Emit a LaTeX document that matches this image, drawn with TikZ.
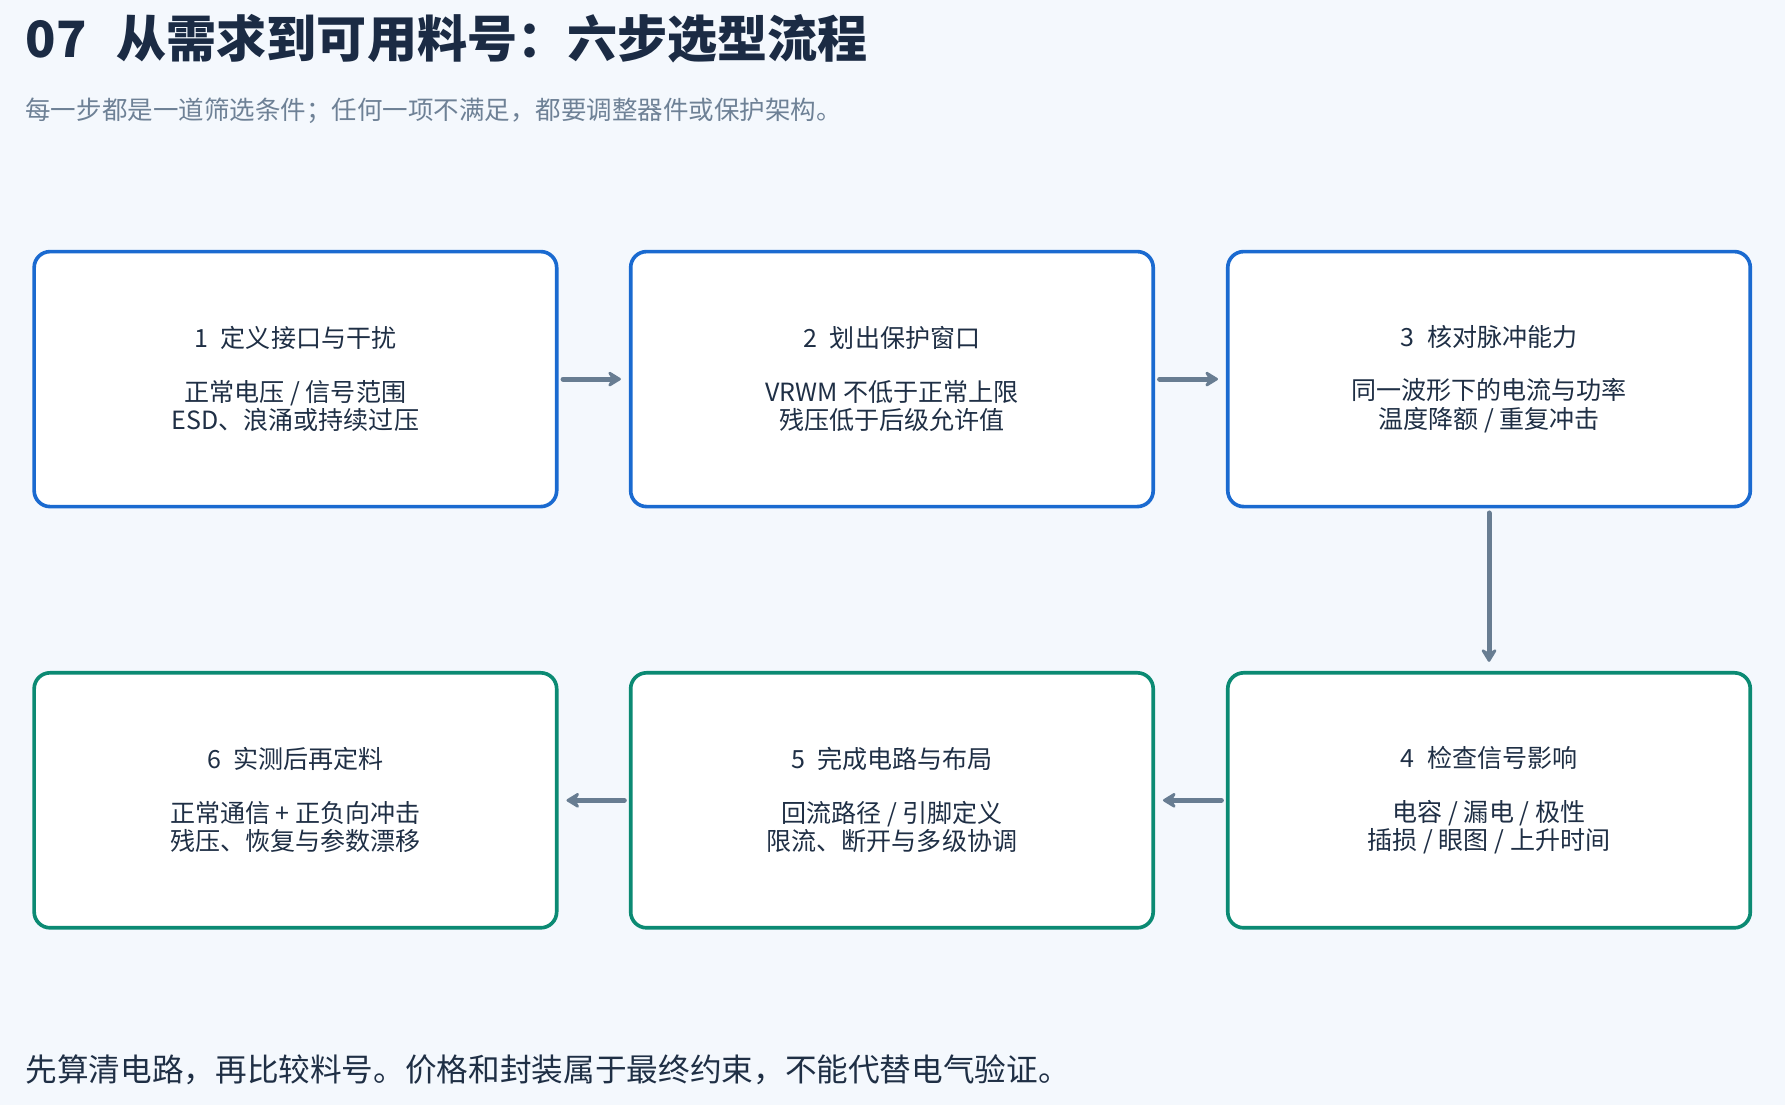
\documentclass[tikz,border=0pt]{standalone}
\usepackage{fontspec}
\setmainfont{Noto Sans CJK SC}
\usetikzlibrary{arrows.meta}
\definecolor{bgc}{HTML}{F4F8FD}
\definecolor{titlec}{HTML}{1B2B44}
\definecolor{subc}{HTML}{6E8196}
\definecolor{textc}{HTML}{1F2F45}
\definecolor{bluec}{HTML}{1A6AD0}
\definecolor{tealc}{HTML}{0B8A73}
\definecolor{arrc}{HTML}{687D92}
\tikzset{
  stepbox/.style={rectangle, rounded corners=7pt, line width=1.6pt, fill=white,
    minimum width=229.5pt, minimum height=112pt, inner sep=0pt, align=center,
    text=textc, font=\fontsize{11}{12.5}\selectfont},
  bluebox/.style={stepbox, draw=bluec},
  tealbox/.style={stepbox, draw=tealc},
  arr/.style={draw=arrc, line width=2.2pt, line cap=round,
    -{Stealth[length=7pt, width=8.5pt, inset=2.5pt, round]}},
}
\begin{document}
\begin{tikzpicture}[x=0.5pt,y=-0.5pt]
\fill[bgc] (0,0) rectangle (1568,970.8);
\useasboundingbox (0,0) rectangle (1568,970.8);
\node[anchor=west, inner sep=0pt, text=titlec, font=\fontsize{22}{26}\selectfont\bfseries] (title) at (22,34) {07\hspace{0.6em}从需求到可用料号：六步选型流程};
\node[anchor=west, inner sep=0pt, text=subc, font=\fontsize{11.2}{13}\selectfont] (sub) at (22,97) {每一步都是一道筛选条件；任何一项不满足，都要调整器件或保护架构。};

\node[bluebox] (b1) at (259.5,333) {1\hspace{0.5em}定义接口与干扰\\[11pt]正常电压 / 信号范围\\ESD、浪涌或持续过压};
\node[bluebox] (b2) at (783.5,333) {2\hspace{0.5em}划出保护窗口\\[11pt]VRWM 不低于正常上限\\残压低于后级允许值};
\node[bluebox] (b3) at (1308,333) {3\hspace{0.5em}核对脉冲能力\\[11pt]同一波形下的电流与功率\\温度降额 / 重复冲击};
\node[tealbox] (b4) at (1308,703) {4\hspace{0.5em}检查信号影响\\[11pt]电容 / 漏电 / 极性\\插损 / 眼图 / 上升时间};
\node[tealbox] (b5) at (783.5,703) {5\hspace{0.5em}完成电路与布局\\[11pt]回流路径 / 引脚定义\\限流、断开与多级协调};
\node[tealbox] (b6) at (259.5,703) {6\hspace{0.5em}实测后再定料\\[11pt]正常通信 + 正负向冲击\\残压、恢复与参数漂移};

\draw[arr] ([xshift=2pt]b1.east) -- ([xshift=-3.5pt]b2.west);
\draw[arr] ([xshift=2pt]b2.east) -- ([xshift=-3.5pt]b3.west);
\draw[arr] ([yshift=-2pt]b3.south) -- ([yshift=4pt]b4.north);
\draw[arr] ([xshift=-2pt]b4.west) -- ([xshift=3.5pt]b5.east);
\draw[arr] ([xshift=-2pt]b5.west) -- ([xshift=3.5pt]b6.east);

\node[anchor=west, inner sep=0pt, text=textc, font=\fontsize{13.9}{16}\selectfont] (foot) at (22,940) {先算清电路，再比较料号。价格和封装属于最终约束，不能代替电气验证。};
\end{tikzpicture}
\end{document}
